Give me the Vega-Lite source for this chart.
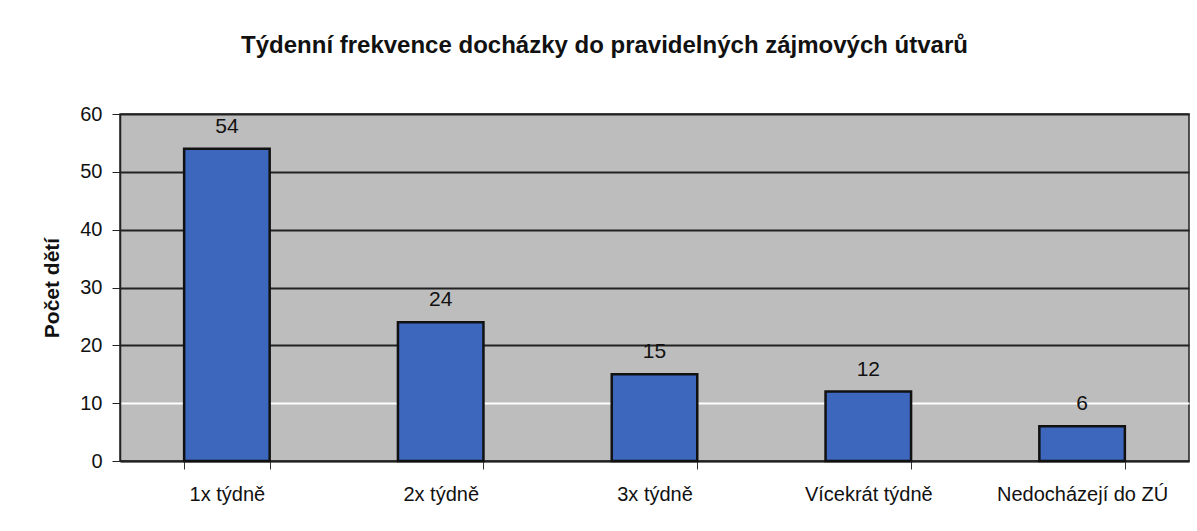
{
  "$schema": "https://vega.github.io/schema/vega-lite/v6.json",
  "autosize": "none",
  "width": 1069,
  "height": 347,
  "padding": {"left": 120, "top": 114, "right": 8, "bottom": 70},
  "background": "#ffffff",
  "title": {
    "text": "Týdenní frekvence docházky do pravidelných zájmových útvarů",
    "font": "Liberation Sans",
    "fontSize": 24,
    "fontWeight": "bold",
    "color": "#111111",
    "anchor": "middle",
    "dx": -50,
    "offset": 46
  },
  "data": {
    "values": [
      {"kat": "1x týdně", "pocet": 54},
      {"kat": "2x týdně", "pocet": 24},
      {"kat": "3x týdně", "pocet": 15},
      {"kat": "Vícekrát týdně", "pocet": 12},
      {"kat": "Nedocházejí do ZÚ", "pocet": 6}
    ]
  },
  "config": {
    "view": {"fill": "#bdbdbd", "stroke": "#222222", "strokeWidth": 1.5},
    "font": "Liberation Sans"
  },
  "encoding": {
    "x": {
      "field": "kat",
      "type": "nominal",
      "sort": null,
      "scale": {"paddingInner": 0.6, "paddingOuter": 0.3},
      "axis": {
        "title": null,
        "labelAngle": 0,
        "labelFontSize": 20,
        "labelColor": "#111111",
        "labelPadding": 15,
        "tickBand": "extent",
        "tickSize": 8,
        "tickColor": "#333333",
        "domainColor": "#222222",
        "domainWidth": 1.5
      }
    },
    "y": {
      "field": "pocet",
      "type": "quantitative",
      "scale": {"domain": [0, 60], "nice": false},
      "axis": {
        "title": "Počet dětí",
        "titleFontSize": 21,
        "titleFontWeight": "bold",
        "titleColor": "#111111",
        "titleX": -58,
        "values": [0, 10, 20, 30, 40, 50, 60],
        "labelOverlap": false,
        "labelFontSize": 20,
        "labelColor": "#111111",
        "labelPadding": 10,
        "tickSize": 8,
        "tickColor": "#222222",
        "domainColor": "#222222",
        "domainWidth": 1.5,
        "grid": true,
        "gridColor": {"condition": {"test": "datum.value === 10", "value": "#ffffff"}, "value": "#222222"},
        "gridWidth": 1.8
      }
    }
  },
  "layer": [
    {
      "mark": {"type": "bar", "color": "#3d66bd", "stroke": "#111111", "strokeWidth": 2.5}
    },
    {
      "mark": {"type": "text", "baseline": "bottom", "dy": -12, "fontSize": 21, "color": "#111111"},
      "encoding": {"text": {"field": "pocet", "type": "quantitative"}}
    }
  ]
}
